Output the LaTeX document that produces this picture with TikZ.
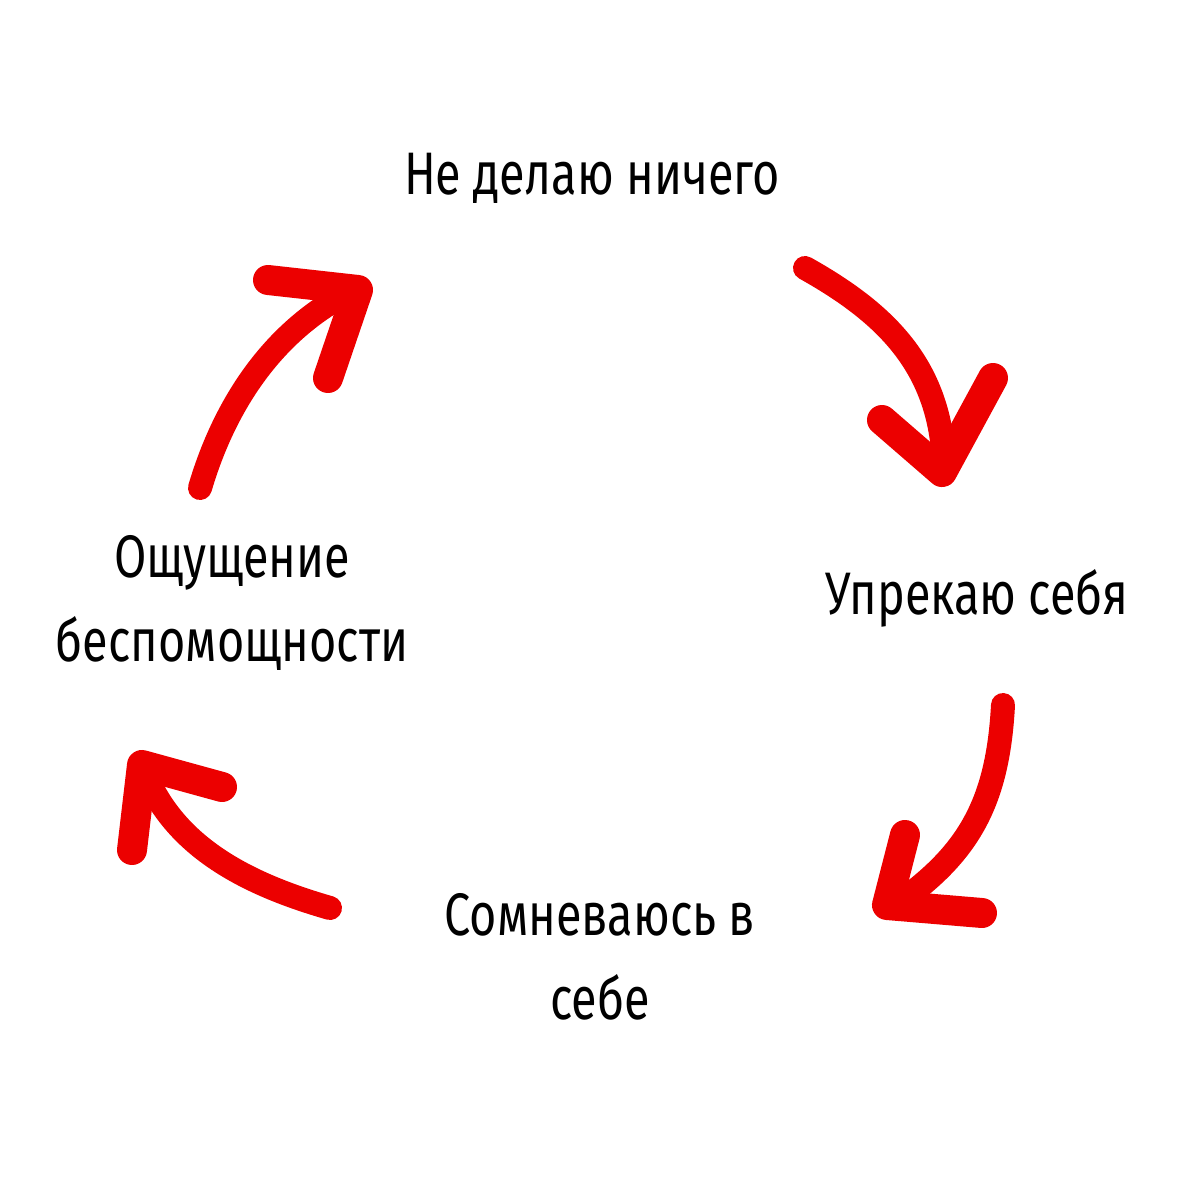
\documentclass[tikz,border=0pt]{standalone}
\usepackage{fontspec}
\setmainfont{Fira Sans}[FakeStretch=0.78]
\definecolor{arrred}{RGB}{236,0,0}
\begin{document}
\begin{tikzpicture}[x=1pt,y=-1pt,
  lbl/.style={font=\fontsize{60}{84}\selectfont,align=center,text=black,inner sep=0},
  shaft/.style={draw=arrred,line width=24,line cap=round},
  head/.style={draw=arrred,line width=30,line cap=round,line join=round}]
\useasboundingbox (0,0) rectangle (1200,1200);
\fill[white] (0,0) rectangle (1200,1200);
\node[lbl] (a) at (592,178) {Не делаю ничего};
\node[lbl] (b) at (977,598) {Упрекаю себя};
\node[lbl] (c) at (600,957) {Сомневаюсь в\\себе};
\node[lbl] (d) at (232,603) {Ощущение\\беспомощности};
% arrow 1
\coordinate (s1) at (805,268); \coordinate (t1) at (942,472);
\draw[shaft] (s1) .. controls (880,310) and (935,360) .. (943,450);
\draw[head] (882,420) -- (t1) -- (993,378);
% arrow 2
\coordinate (s2) at (1003,705); \coordinate (t2) at (887,905);
\draw[shaft] (s2) .. controls (998,800) and (970,850) .. (905,898);
\draw[head] (905,835) -- (t2) -- (982,913);
% arrow 3
\coordinate (s3) at (330,908); \coordinate (t3) at (142,765);
\draw[shaft] (s3) .. controls (250,885) and (180,850) .. (148,780);
\draw[head] (132,850) -- (t3) -- (222,787);
% arrow 4
\coordinate (s4) at (200,488); \coordinate (t4) at (358,290);
\draw[shaft] (s4) .. controls (220,420) and (260,345) .. (335,300);
\draw[head] (268,280) -- (t4) -- (328,378);
\end{tikzpicture}
\end{document}
